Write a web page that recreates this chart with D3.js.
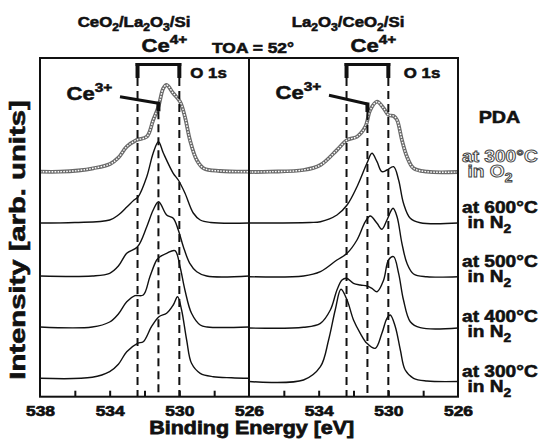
<!DOCTYPE html>
<html>
<head>
<meta charset="utf-8">
<script src="https://cdn.jsdelivr.net/npm/d3@7"></script>
<style>
  body { margin: 0; background: #fff; }
  svg { display: block; }
  text { font-family: "Liberation Sans", Arial, Helvetica, sans-serif; font-weight: bold; fill: #111; stroke: #111; stroke-width: 0.55px; }
</style>
</head>
<body>
<svg id="chart" width="549" height="447"></svg>
<script>
// ---- Data: O 1s XPS spectra, [binding energy (eV), intensity (arb. units)] ----
const energyDomain = [538, 526];
const minorTicks = [536, 534, 532, 530, 528];
const leftTickLabels = [538, 534, 530, 526];
const rightTickLabels = [534, 530, 526];
const ce4Lines = [532.4, 530.0];
const ce3Line = 531.2;

// CeO2/La2O3/Si
const leftO2_300 = [[538,0],[536.85,0],[535.8,1.2],[534.94,3.4],[533.98,7.7],[533.5,14],[533.02,25],[532.45,31.7],[531.87,35],[531.5,51.7],[531.2,65],[530.92,83.4],[530.73,86.7],[530.35,78.4],[529.96,70],[529.68,55],[529.39,31.7],[529.0,11.7],[528.6,3.4],[527.67,0.7],[526,0]];
const leftN2_600 = [[538,0],[536,0.5],[534,3],[533.5,8],[533.0,16.3],[532.6,23],[532.36,26.3],[531.87,46.3],[531.5,70],[531.2,81.3],[530.92,70],[530.35,49.7],[530.06,43],[529.68,30],[529.2,10],[528.8,3],[528.2,0.5],[526,0]];
const leftN2_500 = [[538,0],[535,0],[534,2.7],[533.5,10],[533.02,22.7],[532.4,29.3],[531.87,49.3],[531.5,66],[531.19,74.3],[530.73,61],[530.35,57.7],[530.06,46],[529.77,29.3],[529.4,12.7],[529.0,4.3],[528.43,0],[526,0]];
const leftN2_400 = [[538,0],[535,0],[534,5],[533.5,13],[533.02,25.3],[532.55,31.3],[532.07,32],[531.69,50.3],[531.3,67],[531.11,70.3],[530.73,73.7],[530.25,76.3],[529.96,60.3],[529.68,37],[529.3,13.7],[528.8,2],[528.4,0],[526,0]];
const leftN2_300 = [[538,0],[535,1],[534,6.6],[533.5,14],[533.02,26.6],[532.4,35],[532.07,36.6],[531.6,51.6],[531.17,61.6],[530.73,65],[530.35,73.3],[530.1,81.6],[529.87,68.3],[529.58,38.3],[529.3,15],[528.8,5],[528.05,1.6],[527,0.5],[526,0]];

// La2O3/CeO2/Si
const rightO2_300 = [[538,0],[536.78,0.3],[534.87,2],[533.9,7],[532.95,22],[532.37,32],[531.8,35.3],[531.32,45.3],[531.04,62],[530.65,70.3],[530.27,63.7],[529.99,57],[529.7,56],[529.5,52],[529.22,32],[528.93,15.3],[528.55,3.7],[527.78,0.3],[526,0]];
const rightN2_600 = [[538,0],[534.5,0.5],[533.9,1.3],[532.95,8],[532.37,18],[531.8,36.3],[531.23,59.7],[530.94,69.7],[530.65,61.3],[530.37,51.3],[530.08,53],[529.7,56.3],[529.41,43],[529.13,19.7],[528.74,4.7],[528.17,0.3],[526,0]];
const rightN2_500 = [[538,0],[534.87,0.7],[533.9,5],[532.95,16.7],[532.37,23.4],[531.8,36.7],[531.32,55],[531.04,60.7],[530.65,53.4],[530.37,47.4],[530.08,56.7],[529.73,68.4],[529.5,60],[529.22,33.4],[528.93,13.4],[528.55,2.7],[527.78,0],[526,0]];
const rightN2_400 = [[538,0],[534.87,0.7],[533.9,4.7],[533.33,18],[532.95,38],[532.66,48],[532.4,49.7],[532.0,44.7],[531.61,43],[531.23,42],[530.94,39.7],[530.65,36.3],[530.27,48],[529.99,68],[529.7,71.3],[529.41,54.7],[529.13,28],[528.74,6.3],[528.17,0.3],[526,0]];
const rightN2_300 = [[538,0],[534.87,1.5],[533.9,14.8],[533.43,41.5],[533.05,71.5],[532.72,92.2],[532.37,81.5],[532.0,61.5],[531.61,48.2],[531.23,38.2],[530.75,33.2],[530.37,48.2],[530.08,63.2],[529.89,66.5],[529.6,54.8],[529.31,31.5],[529.03,11.5],[528.55,3.2],[527.78,0.5],[526,0]];

// vertical stacking offsets (arb. units), bottom to top: 300, 400, 500, 600 °C in N2, 300 °C in O2
const leftOffsets = [18.4, 69.7, 120.7, 173.7, 225];
const rightOffsets = [15.2, 68.7, 120, 173.7, 224.7];

const sampleTitles = [["CeO", ["2"], "/La", ["2"], "O", ["3"], "/Si"], ["La", ["2"], "O", ["3"], "/CeO", ["2"], "/Si"]];
const conditionLabels = [
  { parts: ["at 300°C", { br: 5.5 }, "in O", ["2"]], hollow: true },
  { parts: ["at 600°C", { br: 5.5 }, "in N", ["2"]] },
  { parts: ["at 500°C", { br: 5.5 }, "in N", ["2"]] },
  { parts: ["at 400°C", { br: 5.5 }, "in N", ["2"]] },
  { parts: ["at 300°C", { br: 5.5 }, "in N", ["2"]] }
];

// ---- Layout ----
const SX = 1.16; // horizontal stretch applied to the lettering
const frame = { left: 40, top: 58, bottom: 396.7, panelW: 209 };
const svg = d3.select("#chart");

const y = d3.scaleLinear().domain([0, 340]).range([frame.bottom, frame.bottom - 340]);

// text helper: strings, [subscript], {sup: "..."}, {br: indent} for a new line
function richText(parent, x, yy, parts, size, anchor, lineGap) {
  const t = parent.append("text")
    .attr("transform", `translate(${x},${yy}) scale(${SX},1)`)
    .attr("text-anchor", anchor || "start")
    .style("font-size", size + "px");
  let shift = 0;
  let pendingBreak = null;
  parts.forEach(p => {
    let dy = 0, fs = size, txt = null, s = 0;
    if (typeof p === "string") { txt = p; s = 0; }
    else if (Array.isArray(p)) { txt = p[0]; s = size * 0.3; fs = size * 0.72; }
    else if (p.sup !== undefined) { txt = p.sup; s = -size * 0.42; fs = size * 0.7; }
    else if (p.br !== undefined) { pendingBreak = p.br; return; }
    const ts = t.append("tspan").style("font-size", fs + "px").text(txt);
    dy = s - shift;
    if (pendingBreak !== null) {
      ts.attr("x", pendingBreak / SX);
      dy += lineGap;
      pendingBreak = null;
    }
    ts.attr("dy", dy);
    shift = s;
  });
  return t;
}

const panels = [
  { x0: frame.left, curves: [leftN2_300, leftN2_400, leftN2_500, leftN2_600, leftO2_300], offsets: leftOffsets,
    tickLabels: leftTickLabels, title: sampleTitles[0], titleX: 134, o1sDx: 11, ce3TextY: 100, ce3EndY: 103.3 },
  { x0: frame.left + frame.panelW, curves: [rightN2_300, rightN2_400, rightN2_500, rightN2_600, rightO2_300], offsets: rightOffsets,
    tickLabels: rightTickLabels, title: sampleTitles[1], titleX: 348, o1sDx: 15.5, ce3TextY: 98.5, ce3EndY: 104 }
];

panels.forEach(p => {
  const x = d3.scaleLinear().domain(energyDomain).range([p.x0, p.x0 + frame.panelW]);
  const g = svg.append("g");

  // spectra
  p.curves.forEach((c, i) => {
    const line = d3.line()
      .x(d => x(d[0]))
      .y(d => y(p.offsets[i] + d[1]))
      .curve(d3.curveCatmullRom.alpha(0.5));
    if (i === 4) {
      // O2-annealed spectrum drawn as a chain of open markers
      g.append("path").datum(c).attr("d", line).attr("fill", "none")
        .attr("stroke", "#6a6a6a").attr("stroke-width", 3.8);
      g.append("path").datum(c).attr("d", line).attr("fill", "none")
        .attr("stroke", "#fff").attr("stroke-width", 1.4).attr("stroke-dasharray", "1.6 1.3");
    } else {
      g.append("path").datum(c).attr("d", line).attr("fill", "none")
        .attr("stroke", "#111").attr("stroke-width", 1.4);
    }
  });

  // Ce4+ bracket and reference lines
  const bTop = 64.5, bBot = 78;
  g.append("line").attr("x1", x(ce4Lines[0]) - 2).attr("x2", x(ce4Lines[1]) + 2)
    .attr("y1", bTop).attr("y2", bTop).attr("stroke", "#111").attr("stroke-width", 3);
  ce4Lines.forEach(e => {
    g.append("line").attr("x1", x(e)).attr("x2", x(e)).attr("y1", bTop - 1.5).attr("y2", bBot)
      .attr("stroke", "#111").attr("stroke-width", 4);
    g.append("line").attr("x1", x(e)).attr("x2", x(e)).attr("y1", bBot).attr("y2", frame.bottom)
      .attr("stroke", "#111").attr("stroke-width", 2).attr("stroke-dasharray", "8 5");
  });
  // Ce3+ pointer
  const xc3 = x(ce3Line);
  g.append("line").attr("x1", p.x0 + 80).attr("y1", p.ce3TextY - 3.3).attr("x2", xc3).attr("y2", p.ce3EndY)
    .attr("stroke", "#111").attr("stroke-width", 3);
  g.append("line").attr("x1", xc3).attr("x2", xc3).attr("y1", p.ce3EndY - 1.5).attr("y2", p.ce3EndY + 8)
    .attr("stroke", "#111").attr("stroke-width", 4);
  g.append("line").attr("x1", xc3).attr("x2", xc3).attr("y1", p.ce3EndY + 8).attr("y2", frame.bottom)
    .attr("stroke", "#111").attr("stroke-width", 2).attr("stroke-dasharray", "8 5");

  richText(g, p.x0 + 26.5, p.ce3TextY, ["Ce", { sup: "3+" }], 19, "start");
  richText(g, xc3 + 6, 52, ["Ce", { sup: "4+" }], 19, "middle");
  richText(g, x(ce4Lines[1]) + p.o1sDx, 77.7, ["O 1s"], 14.5, "start");
  richText(svg, p.titleX, 27, p.title, 14.5, "middle");

  // axis: inward minor ticks
  const tickAxis = d3.axisBottom(x).tickValues(minorTicks).tickSize(-6).tickFormat("");
  const ta = svg.append("g").attr("transform", `translate(0,${frame.bottom})`).call(tickAxis);
  ta.select(".domain").remove();
  ta.selectAll("line").attr("stroke", "#111").attr("stroke-width", 2);

  // axis: tick labels
  const labelAxis = d3.axisBottom(x).tickValues(p.tickLabels).tickSize(0).tickPadding(8.7).tickFormat(d3.format("d"));
  const la = svg.append("g").attr("transform", `translate(0,${frame.bottom})`).call(labelAxis);
  la.attr("font-family", null).attr("font-size", null);
  la.select(".domain").remove();
  la.selectAll("text").attr("transform", `scale(${SX},1)`)
    .attr("fill", "#111")
    .style("font-family", '"Liberation Sans", Arial, sans-serif')
    .style("font-size", "15px").style("font-weight", "bold")
    .style("stroke", "#111").style("stroke-width", "0.7px");
});

// frame and panel divider
svg.append("rect").attr("x", frame.left).attr("y", frame.top)
  .attr("width", frame.panelW * 2).attr("height", frame.bottom - frame.top)
  .attr("fill", "none").attr("stroke", "#111").attr("stroke-width", 2);
svg.append("line").attr("x1", frame.left + frame.panelW).attr("x2", frame.left + frame.panelW)
  .attr("y1", frame.top).attr("y2", frame.bottom).attr("stroke", "#111").attr("stroke-width", 2);

// annotations
richText(svg, 253, 52.5, ["TOA = 52°"], 15, "middle");
richText(svg, 251.7, 434, ["Binding Energy [eV]"], 18.5, "middle").style("stroke-width", "0.75px");
svg.append("text")
  .attr("transform", "translate(25,240) rotate(-90) scale(1.5,1.12)")
  .attr("text-anchor", "middle").style("font-size", "19.5px")
  .text("Intensity [arb. units]");

// annealing-condition legend
richText(svg, 499.5, 122.7, ["PDA"], 17, "middle");
const legendY = [161.7, 213, 267, 322, 377];
conditionLabels.forEach((c, i) => {
  const t = richText(svg, 462, legendY[i], c.parts, 16.5, "start", 15.5);
  if (c.hollow) {
    t.style("fill", "#fff").style("stroke", "#444").style("stroke-width", "0.9px");
  }
});
</script>
</body>
</html>
